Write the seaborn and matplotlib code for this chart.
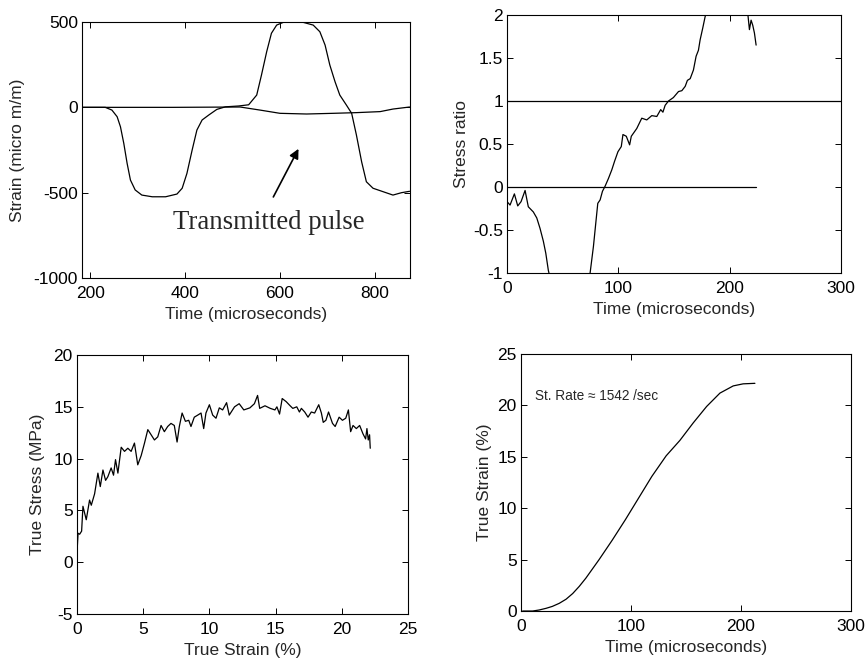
import numpy as np
import pandas as pd
import matplotlib
matplotlib.use("Agg")
import matplotlib.pyplot as plt
import seaborn as sns

# ---------------- data ----------------
# Panel 1: strain gauge signals
pulse_t = [183, 232, 246, 257, 264, 271, 278, 285, 295, 309, 331, 359, 383, 394, 404, 415, 425,
           436, 450, 467, 485, 513, 534, 551, 561, 572, 582, 593, 607, 649, 670, 684, 695, 705,
           716, 726, 740, 751, 761, 772, 782, 796, 817, 838, 856, 873]
pulse_strain = [0, 0, -16, -55, -114, -211, -328, -426, -484, -514, -524, -524, -508, -474, -387, -250, -133,
                -74, -45, -12, 3, 8, 15, 72, 189, 326, 434, 482, 498, 498, 482, 443, 365, 248,
                150, 72, 13, -35, -162, -319, -436, -474, -494, -514, -500, -492]
trans_t = [183, 375, 516, 558, 600, 656, 712, 761, 811, 838, 873]
trans_strain = [0, 0, 2, -16, -35, -39, -35, -31, -25, -10, 2]

# Panel 2: stress ratio
ratio_t = [0, 2.7, 6.6, 9.6, 12.6, 16.2, 19.1, 23.6, 26.7, 29.6, 32.6, 34.8, 37.1, 38,
           45, 55, 65, 72, 74.6, 77.6, 79.7, 81.5, 83.6, 85.7, 88.1, 91.1, 94.1, 96.6,
           99.6, 102.6, 104.1, 107.1, 110.1, 111.6, 116.5, 121, 125.5, 130, 134.5, 138, 140,
           142, 145, 149.4, 154, 157, 160, 162, 164.5, 167.4, 169.8, 171.9, 173.4, 175.8,
           177.9, 185, 195, 205, 214, 216.2, 217.7, 219.2, 220.7, 222.2, 223.7]
ratio_val = [-0.17, -0.21, -0.08, -0.22, -0.17, -0.04, -0.23, -0.29, -0.36, -0.48, -0.63, -0.77, -0.97, -1.02,
             -1.4, -1.8, -1.6, -1.2, -1.0, -0.69, -0.42, -0.19, -0.15, -0.05, 0.01, 0.10, 0.20, 0.30,
             0.41, 0.47, 0.61, 0.59, 0.49, 0.59, 0.68, 0.80, 0.78, 0.83, 0.82, 0.90, 0.87,
             0.95, 1.00, 1.04, 1.11, 1.12, 1.17, 1.24, 1.26, 1.36, 1.52, 1.59, 1.71, 1.85,
             1.98, 2.3, 2.5, 2.4, 2.2, 2.02, 1.83, 1.94, 1.88, 1.79, 1.65]
ref_one_t = [0, 300]
ref_one = [1, 1]
ref_zero_t = [0, 224]
ref_zero = [0, 0]

# Panel 3: true stress vs true strain
ss_strain = [0.0, 0.03, 0.08, 0.2, 0.35, 0.45, 0.70, 0.95, 1.08, 1.33, 1.58, 1.76, 1.96, 2.16, 2.33,
             2.58, 2.76, 2.91, 3.09, 3.34, 3.59, 3.84, 4.09, 4.34, 4.59, 4.85, 5.1, 5.35, 5.6,
             5.85, 6.1, 6.35, 6.6, 6.85, 7.1, 7.35, 7.56, 7.73, 7.94, 8.19, 8.44, 8.61, 8.86,
             9.12, 9.37, 9.57, 9.74, 10.0, 10.25, 10.5, 10.75, 11.0, 11.3, 11.5, 11.9, 12.25,
             12.6, 13.06, 13.4, 13.64, 13.8, 14.2, 14.6, 14.95, 15.1, 15.3, 15.5, 15.8, 16.1,
             16.3, 16.6, 16.8, 16.95, 17.2, 17.45, 17.7, 17.95, 18.26, 18.46, 18.6, 18.8, 19.0,
             19.3, 19.5, 19.8, 20.05, 20.3, 20.5, 20.67, 20.85, 21.1, 21.35, 21.6, 21.8, 21.9,
             22.0, 22.1, 22.15]
ss_stress = [0.0, 1.6, 2.8, 2.7, 3.0, 5.4, 4.1, 6.0, 5.5, 6.6, 8.6, 7.3, 8.9, 7.9, 8.25,
             9.1, 8.4, 9.9, 8.6, 11.1, 10.7, 11.0, 10.7, 11.5, 9.4, 10.3, 11.5, 12.8, 12.3,
             11.8, 12.1, 13.2, 12.6, 13.1, 13.4, 13.2, 11.6, 13.1, 14.4, 13.6, 13.7, 13.1, 14.0,
             14.2, 14.4, 12.9, 14.4, 15.2, 14.2, 13.9, 14.9, 14.7, 15.4, 14.2, 15.0, 15.3,
             14.7, 14.9, 15.3, 16.1, 14.85, 15.1, 14.85, 14.7, 15.0, 14.3, 15.8, 15.5, 15.1,
             14.85, 15.0, 14.5, 14.85, 14.5, 14.0, 14.5, 14.4, 15.2, 14.4, 13.5, 13.7, 14.5,
             13.4, 13.1, 14.0, 13.7, 13.9, 14.7, 12.6, 13.2, 12.9, 13.2, 12.4, 11.9, 12.9,
             11.8, 12.3, 11.0]

# Panel 4: true strain vs time
ts_t = [1.5, 10.6, 16.5, 22.7, 28.5, 34.8, 41, 47, 53, 59, 65, 71, 83, 95, 107, 119, 132, 144.5,
        156.6, 168.8, 180.9, 193, 202, 212.7]
ts_strain = [0, 0, 0.1, 0.26, 0.45, 0.75, 1.15, 1.7, 2.4, 3.2, 4.1, 5.0, 6.9, 8.9, 11.0, 13.1, 15.1,
             16.6, 18.3, 19.9, 21.2, 21.9, 22.1, 22.15]

# ---------------- style ----------------
sns.set_theme(style="ticks")
plt.rcParams['font.family'] = ['Liberation Sans', 'DejaVu Sans']
plt.rcParams['axes.unicode_minus'] = False
plt.rcParams['xtick.direction'] = 'in'
plt.rcParams['ytick.direction'] = 'in'
plt.rcParams['xtick.top'] = True
plt.rcParams['ytick.right'] = True

LW = 0.9
FS = 12.5
XLP = 4

fig = plt.figure(figsize=(8.66, 6.61), dpi=100)
ax1 = fig.add_axes([0.0947, 0.5794, 0.3788, 0.3873])
ax2 = fig.add_axes([0.5855, 0.5870, 0.3857, 0.3903])
ax3 = fig.add_axes([0.0889, 0.0711, 0.3822, 0.3918])
ax4 = fig.add_axes([0.6016, 0.0756, 0.3810, 0.3888])


def style(ax):
    for s in ax.spines.values():
        s.set_linewidth(0.8)
        s.set_color('black')
    ax.tick_params(axis='both', which='major', length=4, width=0.7, labelsize=FS,
                   colors='black', top=True, right=True)
    ax.tick_params(axis='x', pad=6)
    ax.tick_params(axis='y', pad=3)
    ax.xaxis.label.set_size(FS)
    ax.yaxis.label.set_size(FS)


# Panel 1
df_p = pd.DataFrame({'t': pulse_t, 'v': pulse_strain})
df_tr = pd.DataFrame({'t': trans_t, 'v': trans_strain})
sns.lineplot(data=df_p, x='t', y='v', ax=ax1, color='black', lw=LW, sort=False, estimator=None)
sns.lineplot(data=df_tr, x='t', y='v', ax=ax1, color='black', lw=LW, sort=False, estimator=None)
ax1.set_xlim(183, 874)
ax1.set_ylim(-1000, 500)
ax1.set_xticks([200, 400, 600, 800])
ax1.set_yticks([-1000, -500, 0, 500])
ax1.set_xlabel('Time (microseconds)', labelpad=XLP)
ax1.set_ylabel('Strain (micro m/m)', labelpad=6)
ax1.annotate('', xy=(639, -243), xytext=(586, -525),
             arrowprops=dict(arrowstyle='-|>', color='black', lw=1.2, mutation_scale=14,
                             shrinkA=0, shrinkB=0))
ax1.text(375, -673, 'Transmitted pulse', ha='left', va='center', fontsize=19.3,
         family=['Liberation Serif', 'DejaVu Serif'])
style(ax1)

# Panel 2
df_r = pd.DataFrame({'t': ratio_t, 'v': ratio_val})
sns.lineplot(data=df_r, x='t', y='v', ax=ax2, color='black', lw=LW, sort=False, estimator=None)
sns.lineplot(x=ref_one_t, y=ref_one, ax=ax2, color='black', lw=LW, estimator=None)
sns.lineplot(x=ref_zero_t, y=ref_zero, ax=ax2, color='black', lw=LW, estimator=None)
ax2.set_xlim(0, 300)
ax2.set_ylim(-1, 2)
ax2.set_xticks([0, 100, 200, 300])
ax2.set_yticks([-1, -0.5, 0, 0.5, 1, 1.5, 2])
ax2.set_yticklabels(['-1', '-0.5', '0', '0.5', '1', '1.5', '2'])
ax2.set_xlabel('Time (microseconds)', labelpad=XLP)
ax2.set_ylabel('Stress ratio', labelpad=3)
style(ax2)

# Panel 3
df_s = pd.DataFrame({'e': ss_strain, 's': ss_stress})
sns.lineplot(data=df_s, x='e', y='s', ax=ax3, color='black', lw=LW, sort=False, estimator=None)
ax3.set_xlim(0, 25)
ax3.set_ylim(-5, 20)
ax3.set_xticks([0, 5, 10, 15, 20, 25])
ax3.set_yticks([-5, 0, 5, 10, 15, 20])
ax3.set_xlabel('True Strain (%)', labelpad=XLP)
ax3.set_ylabel('True Stress (MPa)', labelpad=6)
style(ax3)

# Panel 4
df_ts = pd.DataFrame({'t': ts_t, 'e': ts_strain})
sns.lineplot(data=df_ts, x='t', y='e', ax=ax4, color='black', lw=LW, sort=False, estimator=None)
ax4.set_xlim(0, 300)
ax4.set_ylim(0, 25)
ax4.set_xticks([0, 100, 200, 300])
ax4.set_yticks([0, 5, 10, 15, 20, 25])
ax4.set_xlabel('Time (microseconds)', labelpad=XLP)
ax4.set_ylabel('True Strain (%)', labelpad=4)
ax4.text(12.7, 20.9, 'St. Rate \u2248 1542 /sec', ha='left', va='center', fontsize=9.8)
style(ax4)

fig.savefig('out.png', dpi=100)
